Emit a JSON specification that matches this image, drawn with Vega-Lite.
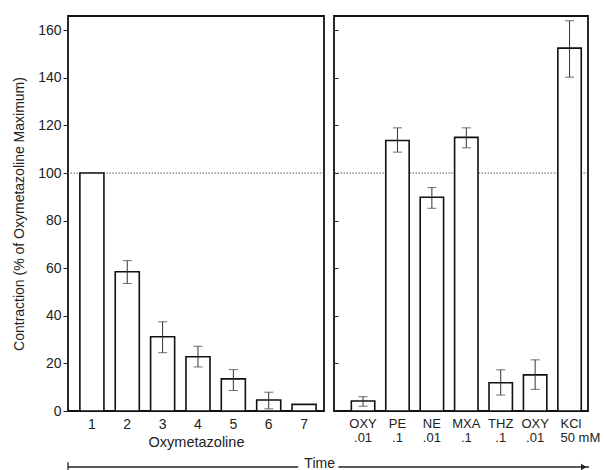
{
  "$schema": "https://vega.github.io/schema/vega-lite/v6.json",
  "autosize": {"type": "pad"},
  "padding": {"left": 11, "top": 15, "right": 0, "bottom": 0},
  "background": "white",
  "config": {
    "font": "Liberation Sans",
    "view": {"stroke": "#111", "strokeWidth": 1.8},
    "axis": {"labelColor": "#222", "titleColor": "#222", "tickColor": "#222", "grid": false, "domain": false, "titleFontWeight": "normal", "labelFont": "Liberation Sans", "titleFont": "Liberation Sans"}
  },
  "datasets": {
    "oxy": [
      {"cond": "1", "mean": 100},
      {"cond": "2", "mean": 58.5, "lo": 53.6, "hi": 63.2},
      {"cond": "3", "mean": 31.2, "lo": 24.5, "hi": 37.5},
      {"cond": "4", "mean": 22.8, "lo": 18.5, "hi": 27.2},
      {"cond": "5", "mean": 13.5, "lo": 8.6, "hi": 17.4},
      {"cond": "6", "mean": 4.6, "lo": 0.9, "hi": 7.9},
      {"cond": "7", "mean": 2.8}
    ],
    "drugs": [
      {"agent": "OXY|.01|first", "mean": 4.2, "lo": 2.0, "hi": 6.0},
      {"agent": "PE|.1", "mean": 113.7, "lo": 108.8, "hi": 119.0},
      {"agent": "NE|.01", "mean": 89.8, "lo": 85.2, "hi": 93.9},
      {"agent": "MXA|.1", "mean": 115.0, "lo": 110.6, "hi": 119.0},
      {"agent": "THZ|.1", "mean": 11.9, "lo": 6.7, "hi": 17.3},
      {"agent": "OXY|.01|second", "mean": 15.2, "lo": 9.1, "hi": 21.5},
      {"agent": "KCl|50 mM", "mean": 152.5, "lo": 140.3, "hi": 164.0}
    ],
    "ref": [{"level": 100}],
    "timeline": [
      {"part": "line", "from": 0, "to": 0.442},
      {"part": "line", "from": 0.519, "to": 1},
      {"part": "start", "at": 0},
      {"part": "label", "at": 0.483, "label": "Time"},
      {"part": "end", "at": 0.99}
    ]
  },
  "vconcat": [
    {
      "hconcat": [
        {
          "width": 256,
          "height": 395,
          "data": {"name": "oxy"},
          "layer": [
            {
              "data": {"name": "ref"},
              "mark": {"type": "rule", "strokeDash": [1.5, 1.5], "color": "#555", "strokeWidth": 1},
              "encoding": {
                "y": {"field": "level", "type": "quantitative", "scale": {"domain": [0, 166], "nice": false}, "title": "Contraction (% of Oxymetazoline Maximum)",
                  "axis": {"values": [0, 20, 40, 60, 80, 100, 120, 140, 160], "tickSize": 5, "labelFontSize": 14, "labelPadding": 2, "titleFontSize": 14, "titlePadding": 11}}
              }
            },
            {
              "mark": {"type": "bar", "fill": "white", "stroke": "#111", "strokeWidth": 1.6},
              "encoding": {
                "x": {"field": "cond", "type": "ordinal", "title": "Oxymetazoline", "scale": {"paddingInner": 0.32, "paddingOuter": 0.28, "align": 0.6},
                  "axis": {"labelAngle": 0, "ticks": false, "labelFontSize": 14, "labelPadding": 6, "titleFontSize": 14.5, "titlePadding": 4}},
                "y": {"field": "mean", "type": "quantitative", "scale": {"domain": [0, 166], "nice": false}, "title": "Contraction (% of Oxymetazoline Maximum)",
                  "axis": {"values": [0, 20, 40, 60, 80, 100, 120, 140, 160], "tickSize": 5, "labelFontSize": 14, "labelPadding": 2, "titleFontSize": 14, "titlePadding": 11}}
              }
            },
            {
              "transform": [{"filter": "isValid(datum.lo)"}],
              "mark": {"type": "rule", "color": "#333", "strokeWidth": 1},
              "encoding": {
                "x": {"field": "cond", "type": "ordinal", "title": "Oxymetazoline"},
                "y": {"field": "lo", "type": "quantitative", "title": "Contraction (% of Oxymetazoline Maximum)"},
                "y2": {"field": "hi"}
              }
            },
            {
              "transform": [{"filter": "isValid(datum.lo)"}],
              "mark": {"type": "tick", "color": "#333", "thickness": 1, "size": 9},
              "encoding": {
                "x": {"field": "cond", "type": "ordinal", "title": "Oxymetazoline"},
                "y": {"field": "lo", "type": "quantitative", "title": "Contraction (% of Oxymetazoline Maximum)"}
              }
            },
            {
              "transform": [{"filter": "isValid(datum.hi)"}],
              "mark": {"type": "tick", "color": "#333", "thickness": 1, "size": 9},
              "encoding": {
                "x": {"field": "cond", "type": "ordinal", "title": "Oxymetazoline"},
                "y": {"field": "hi", "type": "quantitative", "title": "Contraction (% of Oxymetazoline Maximum)"}
              }
            }
          ]
        },
        {
          "width": 254,
          "height": 395,
          "data": {"name": "drugs"},
          "layer": [
            {
              "data": {"name": "ref"},
              "mark": {"type": "rule", "strokeDash": [1.5, 1.5], "color": "#555", "strokeWidth": 1},
              "encoding": {
                "y": {"field": "level", "type": "quantitative", "scale": {"domain": [0, 166], "nice": false}, "title": null,
                  "axis": {"values": [0, 20, 40, 60, 80, 100, 120, 140, 160], "tickSize": -4, "labels": false}}
              }
            },
            {
              "mark": {"type": "bar", "fill": "white", "stroke": "#111", "strokeWidth": 1.6},
              "encoding": {
                "x": {"field": "agent", "type": "ordinal", "sort": null, "title": null, "scale": {"paddingInner": 0.32, "paddingOuter": 0.35, "align": 0.72},
                  "axis": {"labelAngle": 0, "ticks": false, "labelFontSize": 13, "labelPadding": 6, "labelLineHeight": 14,
                    "labelExpr": "slice(split(datum.value, '|'), 0, 2)",
                    "labelAlign": {"condition": {"test": "datum.value === 'KCl|50 mM'", "value": "left"}, "value": "center"},
                    "labelOffset": {"condition": {"test": "datum.value === 'KCl|50 mM'", "value": -9}, "value": 0}}},
                "y": {"field": "mean", "type": "quantitative", "scale": {"domain": [0, 166], "nice": false}, "title": null,
                  "axis": {"values": [0, 20, 40, 60, 80, 100, 120, 140, 160], "tickSize": -4, "labels": false}}
              }
            },
            {
              "mark": {"type": "rule", "color": "#333", "strokeWidth": 1},
              "encoding": {
                "x": {"field": "agent", "type": "ordinal", "sort": null, "title": null},
                "y": {"field": "lo", "type": "quantitative", "title": null},
                "y2": {"field": "hi"}
              }
            },
            {
              "mark": {"type": "tick", "color": "#333", "thickness": 1, "size": 9},
              "encoding": {
                "x": {"field": "agent", "type": "ordinal", "sort": null, "title": null},
                "y": {"field": "lo", "type": "quantitative", "title": null}
              }
            },
            {
              "mark": {"type": "tick", "color": "#333", "thickness": 1, "size": 9},
              "encoding": {
                "x": {"field": "agent", "type": "ordinal", "sort": null, "title": null},
                "y": {"field": "hi", "type": "quantitative", "title": null}
              }
            }
          ]
        }
      ],
      "spacing": 6
    },
    {
      "width": 521,
      "height": 6,
      "view": {"stroke": null},
      "data": {"name": "timeline"},
      "layer": [
        {
          "transform": [{"filter": "datum.part === 'line'"}],
          "mark": {"type": "rule", "color": "#222", "strokeWidth": 1.3},
          "encoding": {
            "x": {"field": "from", "type": "quantitative", "scale": {"domain": [0, 1], "nice": false, "zero": false}, "axis": null},
            "x2": {"field": "to"},
            "y": {"datum": 0, "type": "quantitative", "scale": {"domain": [-1, 1]}, "axis": null}
          }
        },
        {
          "transform": [{"filter": "datum.part === 'start'"}],
          "mark": {"type": "rule", "color": "#222", "strokeWidth": 1.3},
          "encoding": {
            "x": {"field": "at", "type": "quantitative", "axis": null},
            "y": {"datum": -1.6, "type": "quantitative", "axis": null},
            "y2": {"datum": 1.6}
          }
        },
        {
          "transform": [{"filter": "datum.part === 'label'"}],
          "mark": {"type": "text", "fontSize": 14, "baseline": "middle", "color": "#222", "dy": -3},
          "encoding": {
            "x": {"field": "at", "type": "quantitative", "axis": null},
            "y": {"datum": 0, "type": "quantitative", "axis": null},
            "text": {"field": "label"}
          }
        },
        {
          "transform": [{"filter": "datum.part === 'end'"}],
          "mark": {"type": "point", "shape": "triangle-right", "filled": true, "size": 40, "color": "#222", "opacity": 1},
          "encoding": {
            "x": {"field": "at", "type": "quantitative", "axis": null},
            "y": {"datum": 0, "type": "quantitative", "axis": null}
          }
        }
      ]
    }
  ],
  "spacing": 7
}
